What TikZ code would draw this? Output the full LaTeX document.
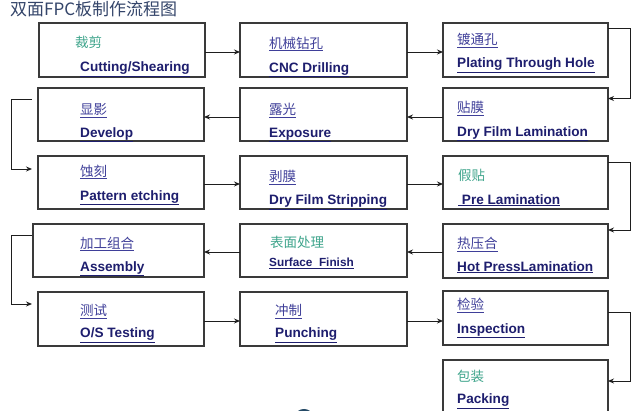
\documentclass[tikz,border=0pt]{standalone}
\usepackage{fontspec}
\setmainfont{Liberation Sans}
\newfontfamily\cjk{Noto Sans CJK SC}
\newsavebox\ulbox
\newcommand\ulx[1]{\sbox\ulbox{#1}\rlap{\rule[\dimexpr-\dp\ulbox-1.6pt\relax]{\wd\ulbox}{0.8pt}}\usebox\ulbox}
\usetikzlibrary{fit,arrows.meta}
\definecolor{enc}{HTML}{1E1E6E}
\definecolor{cnblue}{HTML}{3F3F99}
\definecolor{cnteal}{HTML}{3FA58C}
\definecolor{titlec}{HTML}{34456A}
\definecolor{boxc}{HTML}{3A3A3A}
\definecolor{linec}{HTML}{1E1E1E}
\definecolor{blobc}{HTML}{254A66}
\tikzset{
  boxst/.style={draw=boxc, line width=1.1pt, inner sep=0pt, outer sep=0pt},
  cnb/.style={anchor=base west, inner sep=0pt, text=cnblue, font=\cjk\fontsize{13.5}{14}\selectfont},
  cnt/.style={anchor=base west, inner sep=0pt, text=cnteal, font=\cjk\fontsize{13.5}{14}\selectfont},
  ent/.style={anchor=base west, inner sep=0pt, text=enc, font=\bfseries\fontsize{13.6}{15}\selectfont},
  arr/.style={draw=linec, line width=0.9pt, -{Stealth[length=6pt,width=5pt]}},
  ln/.style={draw=linec, line width=0.9pt}
}
\begin{document}
\begin{tikzpicture}[x=1pt,y=-1pt]
\useasboundingbox (0,0) rectangle (640,411);
\clip (0,0) rectangle (640,411);
\fill[white] (0,0) rectangle (640,411);

% title
\node[anchor=base west, inner sep=0pt, text=titlec, font=\cjk\fontsize{17}{18}\selectfont] (title) at (10,15.5) {双面FPC板制作流程图};

% boxes
\node[boxst, fit={(39,23) (205,77)}] (cut) {};
\node[boxst, fit={(240,23) (407,77)}] (cnc) {};
\node[boxst, fit={(443,23) (608,77)}] (pth) {};
\node[boxst, fit={(38,88) (204,141)}] (dev) {};
\node[boxst, fit={(240,88) (407,141)}] (exp) {};
\node[boxst, fit={(443,88) (608,141)}] (dfl) {};
\node[boxst, fit={(38,156) (204,209)}] (pat) {};
\node[boxst, fit={(240,156) (407,209)}] (dfs) {};
\node[boxst, fit={(443,156) (608,209)}] (pre) {};
\node[boxst, fit={(33,224) (204,277)}] (asm) {};
\node[boxst, fit={(240,224) (407,277)}] (sf) {};
\node[boxst, fit={(443,224) (608,278)}] (hpl) {};
\node[boxst, fit={(38,292) (204,346)}] (ost) {};
\node[boxst, fit={(240,292) (407,346)}] (pun) {};
\node[boxst, fit={(443,291) (608,345)}] (ins) {};
\node[boxst, fit={(443,360) (608,430)}] (pack) {};

% texts
\node[cnt] (cut-cn) at (75,48) {裁剪};
\node[ent] (cut-en) at (80,72) {\ulx{Cutting/Shearing}};
\node[cnb] (cnc-cn) at (269,48.5) {\ulx{机械钻孔}};
\node[ent] (cnc-en) at (269,72.5) {\ulx{CNC Drilling}};
\node[cnb] (pth-cn) at (457,45) {\ulx{镀通孔}};
\node[ent] (pth-en) at (457,68) {\ulx{Plating Through Hole}};

\node[cnb] (dev-cn) at (80,115) {\ulx{显影}};
\node[ent] (dev-en) at (80,137.5) {\ulx{Develop}};
\node[cnb] (exp-cn) at (269,115) {\ulx{露光}};
\node[ent] (exp-en) at (269,137.5) {\ulx{Exposure}};
\node[cnb] (dfl-cn) at (457,113) {\ulx{贴膜}};
\node[ent] (dfl-en) at (457,136.5) {\ulx{Dry Film Lamination}};

\node[cnb] (pat-cn) at (80,176.5) {\ulx{蚀刻}};
\node[ent] (pat-en) at (80,200.5) {\ulx{Pattern etching}};
\node[cnb] (dfs-cn) at (269,182) {\ulx{剥膜}};
\node[ent] (dfs-en) at (269,205) {\ulx{Dry Film Stripping}};
\node[cnt] (pre-cn) at (458,181) {假贴};
\node[ent] (pre-en) at (458,204.5) {\ulx{\ Pre Lamination}};

\node[cnb] (asm-cn) at (80,248.5) {\ulx{加工组合}};
\node[ent] (asm-en) at (80,271.5) {\ulx{Assembly}};
\node[cnt] (sf-cn) at (270,248) {表面处理};
\node[ent, font=\bfseries\fontsize{11.8}{13}\selectfont] (sf-en) at (269,267) {\ulx{Surface\ \ Finish}};
\node[cnb] (hpl-cn) at (457,249) {\ulx{热压合}};
\node[ent] (hpl-en) at (457,271.5) {\ulx{Hot PressLamination}};

\node[cnb] (ost-cn) at (80,316) {\ulx{测试}};
\node[ent] (ost-en) at (80,338) {\ulx{O/S Testing}};
\node[cnb] (pun-cn) at (275,316) {\ulx{冲制}};
\node[ent] (pun-en) at (275,338) {\ulx{Punching}};
\node[cnb] (ins-cn) at (457,310) {\ulx{检验}};
\node[ent] (ins-en) at (457,333.5) {\ulx{Inspection}};

\node[cnt] (pack-cn) at (457,382) {包装};
\node[ent] (pack-en) at (457,404) {\ulx{Packing}};

% row connectors
\draw[arr] ([yshift=-2pt]cut.east) -- ([yshift=-2pt]cut.east -| cnc.west);
\draw[arr] ([yshift=-2pt]cnc.east) -- ([yshift=-2pt]cnc.east -| pth.west);
\draw[arr] ([yshift=-2.5pt]dfl.west) -- ([yshift=-2.5pt]dfl.west -| exp.east);
\draw[arr] ([yshift=-2.5pt]exp.west) -- ([yshift=-2.5pt]exp.west -| dev.east);
\draw[arr] ([yshift=-1.5pt]pat.east) -- ([yshift=-1.5pt]pat.east -| dfs.west);
\draw[arr] ([yshift=-1.5pt]dfs.east) -- ([yshift=-1.5pt]dfs.east -| pre.west);
\draw[arr] ([yshift=-1pt]hpl.west) -- ([yshift=-1pt]hpl.west -| sf.east);
\draw[arr] ([yshift=-1.5pt]sf.west) -- ([yshift=-1.5pt]sf.west -| asm.east);
\draw[arr] ([yshift=-2pt]ost.east) -- ([yshift=-2pt]ost.east -| pun.west);
\draw[arr] ([yshift=-2pt]pun.east) -- ([yshift=-2pt]pun.east -| ins.west);

% right loops
\draw[arr] ([yshift=-5pt]pth.north east) -- ++(22,0) |- ([yshift=-10.5pt]dfl.north east);
\draw[arr] ([yshift=-6pt]pre.north east) -- ++(22,0) |- ([yshift=-6pt]hpl.north east);
\draw[arr] ([yshift=-21pt]ins.north east) -- ++(22,0) |- ([yshift=-21pt]pack.north east);

% left loops
\draw[arr] ([xshift=-6pt,yshift=-11pt]dev.north west) -- ++(-21,0) |- ([xshift=-6pt,yshift=-13pt]pat.north west);
\draw[arr] ([xshift=-1pt,yshift=-11pt]asm.north west) -- ++(-21,0) |- ([xshift=-6pt,yshift=-12pt]ost.north west);

% logo fragment at bottom
\fill[blobc] (304,415) ellipse (8 and 6);
\end{tikzpicture}
\end{document}
